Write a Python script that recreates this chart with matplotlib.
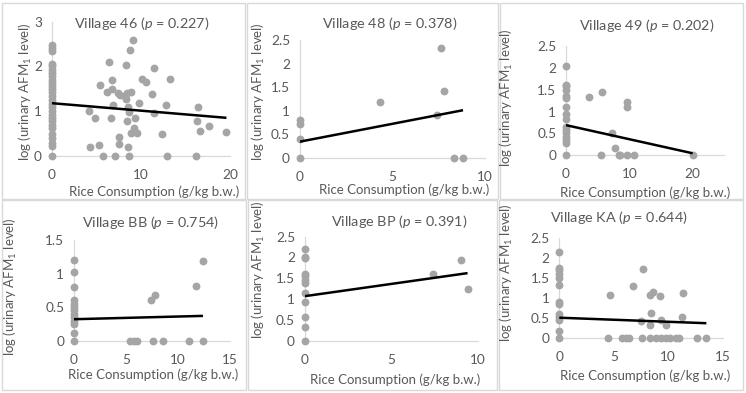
import matplotlib
matplotlib.use('Agg')
import matplotlib.pyplot as plt
from matplotlib.patches import Rectangle
from matplotlib.ticker import FuncFormatter

plt.rcParams['font.family'] = ['Lato', 'DejaVu Sans']
plt.rcParams['mathtext.fontset'] = 'custom'
plt.rcParams['mathtext.rm'] = 'Lato'
plt.rcParams['mathtext.it'] = 'Lato:italic'

# ---- data ----
v46_x = [0] * 28 + [6.4, 8.8, 9.1, 8.3, 11.5, 5.4, 6.8, 10.1, 10.6, 13.3,
                    6.2, 6.8, 7.4, 7.7, 8.2, 8.5, 8.9, 8.3, 11.2, 9.8,
                    12.8, 6.9, 8.6, 4.2, 4.9, 6.7, 8.7, 11.5, 9.3, 8.5,
                    9.2, 8.9, 9.6, 12.4, 16.4, 16.3, 16.6, 17.6, 19.6, 7.5,
                    4.3, 5.3, 7.6, 8.6, 5.8, 7.1, 8.7, 12.9, 16.2]
v46_y = [0, 0.22, 0.3, 0.4, 0.5, 0.62, 0.7, 0.78, 0.85, 0.92, 1.0, 1.1, 1.17,
         1.25, 1.35, 1.42, 1.5, 1.57, 1.62, 1.7, 1.78, 1.85, 1.92, 2.0, 2.06,
         2.35, 2.42, 2.47,
         2.11, 2.37, 2.59, 2.03, 1.97, 1.59, 1.70, 1.71, 1.66, 1.73,
         1.44, 1.50, 1.40, 1.36, 1.33, 1.40, 1.44, 1.27, 1.38, 1.19,
         1.15, 1.13, 1.10, 1.01, 0.84, 0.86, 0.99, 0.97, 0.84, 0.79,
         0.63, 0.51, 0.51, 0.49, 1.09, 0.79, 0.56, 0.66, 0.53, 0.42,
         0.21, 0.25, 0.26, 0.21, 0, 0, 0, 0, 0]
v46_fit = (1.18, -0.0167)

v48_x = [0, 0, 0, 0, 4.3, 7.4, 7.6, 7.8, 8.3, 8.8]
v48_y = [0, 0.39, 0.72, 0.81, 1.19, 0.91, 2.32, 1.42, 0, 0]
v48_fit = (0.34, 0.076)

v49_x = [0] * 16 + [3.7, 5.7, 9.7, 9.7, 7.2, 7.8, 5.5, 8.3, 8.5, 9.7, 10.7, 20.0]
v49_y = [0, 0.27, 0.35, 0.42, 0.5, 0.58, 0.65, 0.82, 0.95, 1.1, 1.3, 1.35,
         1.5, 1.58, 1.6, 2.05,
         1.33, 1.45, 1.23, 1.11, 0.52, 0.16, 0, 0, 0, 0, 0, 0]
v49_fit = (0.69, -0.0322)

vbb_x = [0] * 13 + [7.4, 7.8, 11.7, 12.4, 5.4, 5.8, 6.1, 7.6, 8.6, 11.1, 12.4]
vbb_y = [0, 0.11, 0.25, 0.3, 0.35, 0.4, 0.45, 0.5, 0.55, 0.6, 0.8, 1.02, 1.2,
         0.61, 0.68, 0.82, 1.19, 0, 0, 0, 0, 0, 0, 0]
vbb_fit = (0.32, 0.004)

vbp_x = [0] * 12 + [7.4, 9.0, 9.4]
vbp_y = [0, 0.33, 0.58, 0.93, 1.15, 1.38, 1.45, 1.55, 1.6, 1.98, 2.02, 2.2,
         1.6, 1.94, 1.24]
vbp_fit = (1.07, 0.059)

vka_x = [0] * 13 + [4.7, 6.8, 7.65, 7.5, 8.3, 8.6, 9.2, 8.4, 8.3, 9.3, 9.8,
                    11.25, 11.4,
                    4.5, 5.8, 6.1, 6.4, 7.6, 8.3, 8.9, 9.3, 9.8, 10.2, 10.7,
                    11.0, 12.6, 13.5]
vka_y = [0, 0.17, 0.45, 0.52, 0.6, 0.85, 0.9, 1.33, 1.5, 1.6, 1.7, 1.75, 2.15,
         1.07, 1.3, 1.72, 0.42, 1.07, 1.15, 1.05, 0.61, 0.32, 0.44, 0.32,
         0.52, 1.12,
         0, 0, 0, 0, 0, 0, 0, 0, 0, 0, 0, 0, 0, 0]
vka_fit = (0.5, -0.0102)

names = ['46', '48', '49', 'BB', 'BP', 'KA']
p_values = ['0.227', '0.378', '0.202', '0.754', '0.391', '0.644']
xs = [v46_x, v48_x, v49_x, vbb_x, vbp_x, vka_x]
ys = [v46_y, v48_y, v49_y, vbb_y, vbp_y, vka_y]
fits = [v46_fit, v48_fit, v49_fit, vbb_fit, vbp_fit, vka_fit]
x_ticks = [[0, 10, 20], [0, 5, 10], [0, 10, 20], [0, 5, 10, 15], [0, 5, 10], [0, 5, 10, 15]]
x_max = [20, 10, 25, 15, 10, 15]
y_ticks = [[0, 1, 2, 3], [0, 0.5, 1, 1.5, 2, 2.5], [0, 0.5, 1, 1.5, 2, 2.5],
           [0, 0.5, 1, 1.5], [0, 0.5, 1, 1.5, 2, 2.5], [0, 0.5, 1, 1.5, 2, 2.5]]

# ---- layout in pixels ----
W, H = 746, 393
frames = [(2, 3, 245, 199), (247, 3, 498, 199), (500, 3, 743, 199),
          (2, 200, 246, 390), (248, 200, 497, 390), (499, 200, 743, 390)]
plots = [(51.7, 21.7, 230, 156), (299.7, 40, 485.3, 157.7), (566, 46, 724.3, 155.3),
         (74, 240, 230, 340.7), (304.7, 236.7, 478, 340.7), (559.3, 237.7, 722.7, 337.7)]
title_pos = [(142, 23), (390, 23), (647, 25), (151, 222), (399, 221), (619, 217)]
xlabel_pos = [(154, 192), (404, 190), (645, 193), (153, 375), (395, 380), (645, 376)]
ylabel_pos = [(25, 92), (258, 92), (506, 98), (10, 287), (258, 270), (506, 273)]

GREY = '#A5A5A5'
AXIS = '#D9D9D9'
TEXT = '#595959'


def fx(px):
    return px / W


def fy(py):
    return 1 - py / H


fig = plt.figure(figsize=(W / 100, H / 100), dpi=100)

for i in range(6):
    l, t, r, b = frames[i]
    fig.patches.append(Rectangle((fx(l), fy(b)), fx(r) - fx(l), fy(t) - fy(b),
                                 transform=fig.transFigure, fill=False,
                                 edgecolor=AXIS, lw=1))
    l, t, r, b = plots[i]
    ax = fig.add_axes([fx(l), fy(b), fx(r) - fx(l), fy(t) - fy(b)])
    ax.patch.set_alpha(0)
    ax.scatter(xs[i], ys[i], s=32, color=GREY, zorder=3, clip_on=False, linewidths=0)
    a, k = fits[i]
    x1 = max(xs[i])
    ax.plot([0, x1], [a, a + k * x1], color='black', lw=1.8, zorder=4,
            solid_capstyle='butt')
    ax.set_xlim(0, x_max[i])
    ax.set_ylim(0, y_ticks[i][-1])
    ax.set_xticks(x_ticks[i])
    ax.set_yticks(y_ticks[i])
    ax.yaxis.set_major_formatter(FuncFormatter(lambda v, p: '%g' % v))
    for s in ['top', 'right']:
        ax.spines[s].set_visible(False)
    for s in ['left', 'bottom']:
        ax.spines[s].set_color(AXIS)
        ax.spines[s].set_linewidth(0.9)
    ax.tick_params(length=0, labelsize=9.8, colors=TEXT)
    ax.tick_params(axis='y', pad=7)
    ax.tick_params(axis='x', pad=9.5)

    tx, ty = title_pos[i]
    fig.text(fx(tx), fy(ty), 'Village %s ($\\mathit{p}$ = %s)' % (names[i], p_values[i]),
             ha='center', va='center', fontsize=10.4, color=TEXT)
    tx, ty = xlabel_pos[i]
    fig.text(fx(tx), fy(ty), 'Rice Consumption (g/kg b.w.)',
             ha='center', va='center', fontsize=9.5, color=TEXT)
    tx, ty = ylabel_pos[i]
    fig.text(fx(tx), fy(ty), 'log (urinary AFM$_\\mathregular{1}$ level)',
             ha='center', va='center', fontsize=9.5, color=TEXT, rotation=90)

fig.savefig('out.png', dpi=100)
